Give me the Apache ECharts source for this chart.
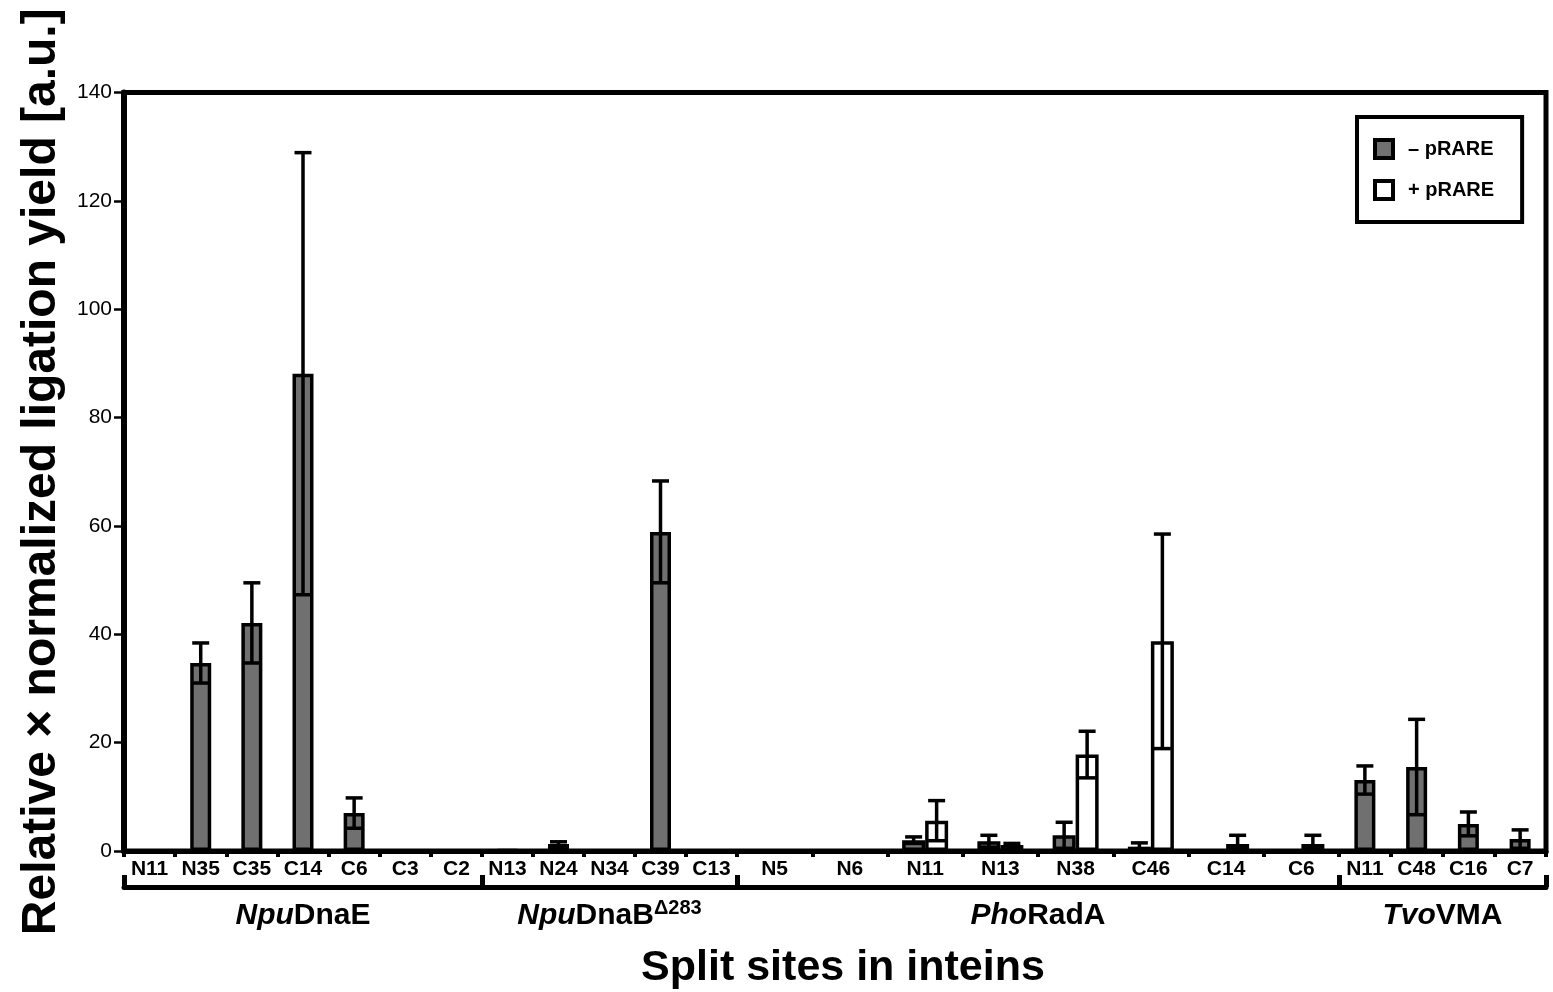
<!DOCTYPE html>
<html>
<head>
<meta charset="utf-8">
<script src="https://cdn.jsdelivr.net/npm/echarts@6/dist/echarts.min.js"></script>
<style>
html,body{margin:0;padding:0;background:#fff;}
#chart{width:1553px;height:992px;}
</style>
</head>
<body>
<div id="chart"></div>
<script>
// ---------- data ----------
const groupPrefix = ['Npu', 'Npu', 'Pho', 'Tvo'];
const groupSuffix = ['DnaE', 'DnaB', 'RadA', 'VMA'];
const groupSup    = ['', 'Δ283', '', ''];

const dnaeSites     = ['N11', 'N35', 'C35', 'C14', 'C6', 'C3', 'C2'];
const dnaeMinus     = [0, 34.7, 42.1, 88.1, 7.0, 0, 0];
const dnaeMinusErr  = [0, 3.7, 7.4, 40.8, 2.8, 0, 0];

const dnabSites     = ['N13', 'N24', 'N34', 'C39', 'C13'];
const dnabMinus     = [0.2, 1.3, 0, 58.9, 0];
const dnabMinusErr  = [0, 0.4, 0, 9.4, 0];

const phoSites      = ['N5', 'N6', 'N11', 'N13', 'N38', 'C46', 'C14', 'C6'];
const phoMinus      = [0, 0, 2.0, 1.8, 2.9, 0.8, 0, 0];
const phoMinusErr   = [0, 0, 0.6, 1.1, 2.4, 0.7, 0, 0];
const phoPlus       = [0, 0, 5.6, 1.1, 17.8, 38.7, 1.3, 1.3];
const phoPlusErr    = [0, 0, 3.7, 0.3, 4.3, 19.8, 1.6, 1.6];

const tvoSites      = ['N11', 'C48', 'C16', 'C7'];
const tvoMinus      = [13.1, 15.5, 5.0, 2.2];
const tvoMinusErr   = [2.6, 8.8, 2.2, 1.7];

const yTicks = [0, 20, 40, 60, 80, 100, 120, 140];
const seriesNames = ['– pRARE', '+ pRARE'];

// ---------- layout / style ----------
const FONT = '"Liberation Sans", Arial, Helvetica, sans-serif';
const GRAY = '#707070';
const TOP = 92.5, BOTTOM = 141;
const gridBoxes = [
  {left: 124, width: 358},
  {left: 482, width: 255},
  {left: 737, width: 602},
  {left: 1339, width: 207}
];
const groups = [
  {sites: dnaeSites, minus: dnaeMinus, minusErr: dnaeMinusErr},
  {sites: dnabSites, minus: dnabMinus, minusErr: dnabMinusErr},
  {sites: phoSites, minus: phoMinus, minusErr: phoMinusErr, plus: phoPlus, plusErr: phoPlusErr},
  {sites: tvoSites, minus: tvoMinus, minusErr: tvoMinusErr}
];

function errRender(offset) {
  return function (params, api) {
    const x = api.value(0), m = api.value(1), e = api.value(2);
    if (!e) return {type: 'group', children: []};
    const lo = Math.max(0, m - e), hi = m + e;
    const pHi = api.coord([x, hi]);
    const pLo = api.coord([x, lo]);
    const cx = pHi[0] + offset;
    const cap = 8.5;
    const st = {stroke: '#000', lineWidth: 3.5};
    const ch = [
      {type: 'line', shape: {x1: cx, y1: pHi[1], x2: cx, y2: pLo[1]}, style: st},
      {type: 'line', shape: {x1: cx - cap, y1: pHi[1], x2: cx + cap, y2: pHi[1]}, style: st}
    ];
    if (lo > 0) ch.push({type: 'line', shape: {x1: cx - cap, y1: pLo[1], x2: cx + cap, y2: pLo[1]}, style: st});
    return {type: 'group', children: ch};
  };
}

const grid = [], xAxis = [], yAxis = [], series = [];
gridBoxes.forEach((g, i) => {
  grid.push({left: g.left, width: g.width, top: TOP, bottom: BOTTOM, containLabel: false});
  xAxis.push({
    type: 'category', gridIndex: i, data: groups[i].sites, position: 'bottom',
    axisLine: {lineStyle: {color: '#000', width: 5}},
    axisTick: {show: true, length: 6, lineStyle: {color: '#000', width: 4}},
    axisLabel: {interval: 0, color: '#000', fontSize: 21, fontWeight: 'bold', fontFamily: FONT, margin: 8},
    splitLine: {show: false}
  });
  xAxis.push({
    type: 'category', gridIndex: i, data: [groupPrefix[i] + groupSuffix[i] + groupSup[i]], position: 'bottom',
    offset: 36,
    axisLine: {lineStyle: {color: '#000', width: 5}},
    axisTick: {show: true, inside: true, length: 12, lineStyle: {color: '#000', width: 5}},
    axisLabel: {
      interval: 0, margin: 11,
      formatter: function () {
        let s = '{i|' + groupPrefix[i] + '}{b|' + groupSuffix[i] + '}';
        if (groupSup[i]) s += '{s|' + groupSup[i] + '}';
        return s;
      },
      rich: {
        i: {fontStyle: 'italic', fontWeight: 'bold', fontSize: 30, fontFamily: FONT, color: '#000', lineHeight: 36},
        b: {fontWeight: 'bold', fontSize: 30, fontFamily: FONT, color: '#000', lineHeight: 36},
        s: {fontWeight: 'bold', fontSize: 20, fontFamily: FONT, color: '#000', lineHeight: 18, verticalAlign: 'top'}
      }
    },
    splitLine: {show: false}
  });
  yAxis.push({
    type: 'value', gridIndex: i, min: 0, max: 140, interval: 20, show: i === 0,
    axisLine: {show: true, lineStyle: {color: '#000', width: 6}},
    axisTick: {show: true, length: 10, lineStyle: {color: '#000', width: 2.5}},
    axisLabel: {
      color: '#000', fontSize: 21, fontFamily: FONT, margin: 12,
      formatter: v => (yTicks.indexOf(v) >= 0 ? String(v) : '')
    },
    splitLine: {show: false},
    name: i === 0 ? 'Relative × normalized ligation yield [a.u.]' : '',
    nameLocation: 'middle', nameGap: 58,
    nameTextStyle: {fontSize: 48, fontWeight: 'bold', fontFamily: FONT, color: '#000'}
  });

  const two = !!groups[i].plus;
  const bw = two ? 23 : 21;
  series.push({
    type: 'bar', name: seriesNames[0], xAxisIndex: 2 * i, yAxisIndex: i,
    data: groups[i].minus, barWidth: bw, barGap: '0%',
    itemStyle: {color: GRAY, borderColor: '#000', borderWidth: 3.5},
    z: 2
  });
  if (two) {
    series.push({
      type: 'bar', name: seriesNames[1], xAxisIndex: 2 * i, yAxisIndex: i,
      data: groups[i].plus, barWidth: bw, barGap: '0%',
      itemStyle: {color: '#fff', borderColor: '#000', borderWidth: 3.5},
      z: 2
    });
  }
  series.push({
    type: 'custom', name: 'errMinus' + i, xAxisIndex: 2 * i, yAxisIndex: i,
    data: groups[i].minus.map((m, k) => [k, m, groups[i].minusErr[k]]),
    renderItem: errRender(two ? -bw / 2 : 0), z: 5
  });
  if (two) {
    series.push({
      type: 'custom', name: 'errPlus' + i, xAxisIndex: 2 * i, yAxisIndex: i,
      data: groups[i].plus.map((m, k) => [k, m, groups[i].plusErr[k]]),
      renderItem: errRender(bw / 2), z: 5
    });
  }
});

// overlay frame grid
grid.push({left: 124, right: 7, top: TOP, bottom: BOTTOM, show: true, borderColor: '#000', borderWidth: 5, backgroundColor: 'transparent'});
xAxis.push({type: 'value', gridIndex: 4, show: false});
yAxis.push({type: 'value', gridIndex: 4, show: false});

const option = {
  animation: false,
  backgroundColor: '#fff',
  title: {
    text: 'Split sites in inteins', left: 838, top: 942, textAlign: 'center',
    textStyle: {fontSize: 43, fontWeight: 'bold', fontFamily: FONT, color: '#000'}
  },
  legend: {
    data: seriesNames, orient: 'vertical', left: 1357, top: 117,
    borderColor: '#000', borderWidth: 4, padding: [21, 28, 21, 16],
    itemWidth: 18, itemHeight: 18, itemGap: 19, icon: 'rect',
    itemStyle: {borderColor: '#000', borderWidth: 4},
    textStyle: {fontSize: 20, fontWeight: 'bold', fontFamily: FONT, color: '#000', padding: [0, 0, 0, 10]},
    selectedMode: false
  },
  grid, xAxis, yAxis, series
};

const chart = echarts.init(document.getElementById('chart'), null, {renderer: 'canvas'});
chart.setOption(option);
</script>
</body>
</html>
